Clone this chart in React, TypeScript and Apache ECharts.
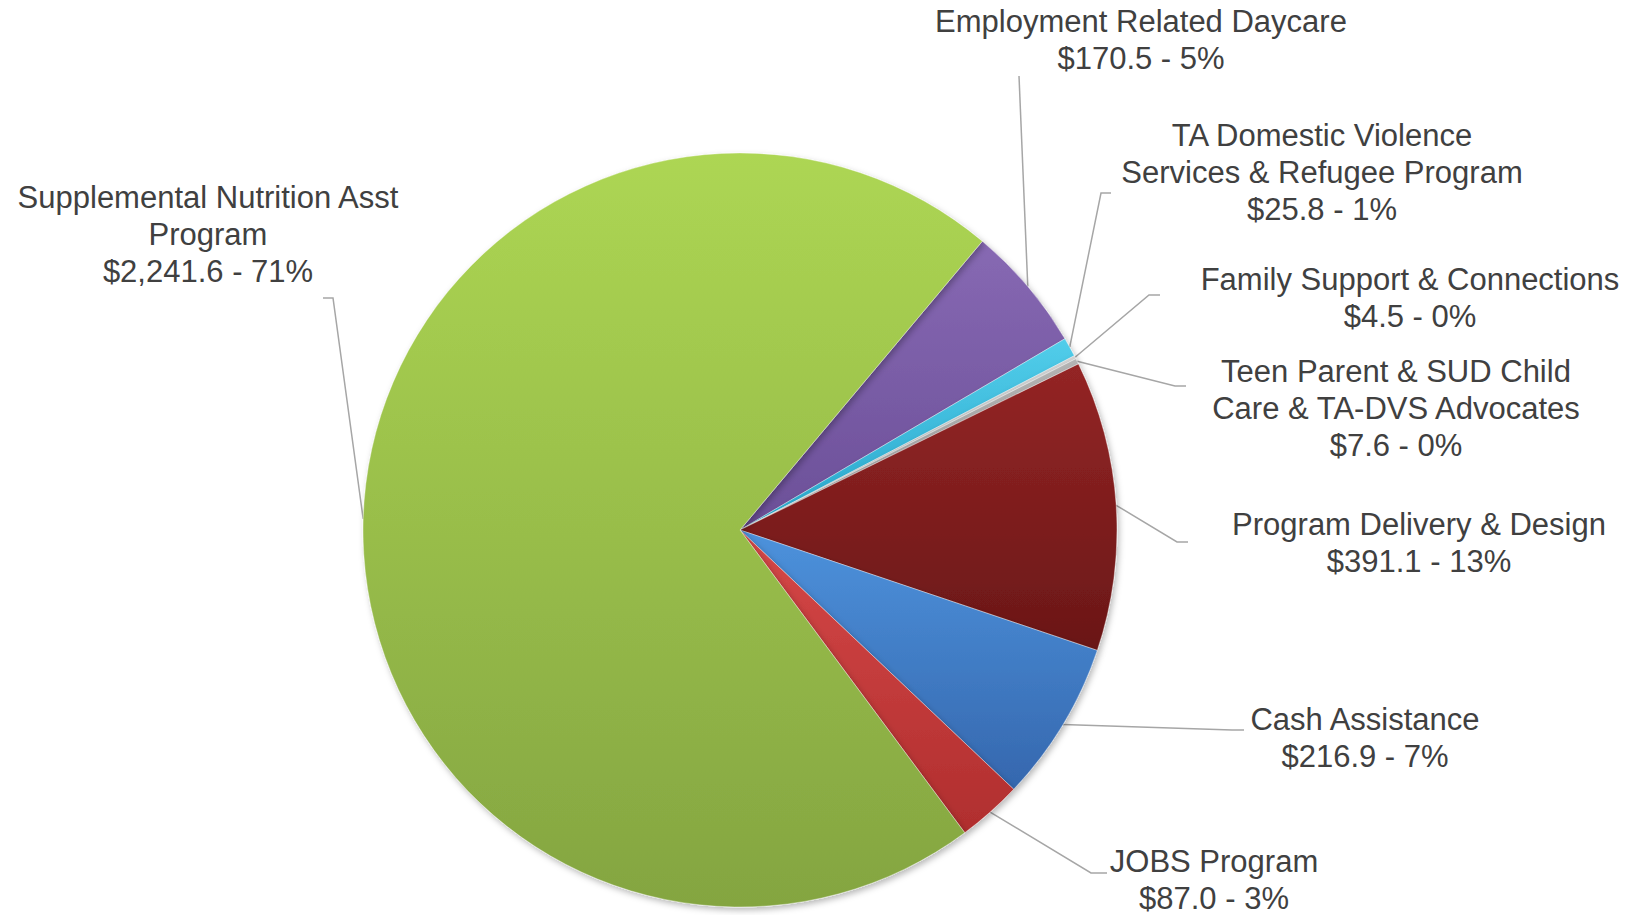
import React, { useEffect, useRef } from "react";
import * as echarts from "echarts";

// ---- data ----
const categories: string[] = [
  "Employment Related Daycare",
  "TA Domestic Violence\nServices & Refugee Program",
  "Family Support & Connections",
  "Teen Parent & SUD Child\nCare & TA-DVS Advocates",
  "Program Delivery & Design",
  "Cash Assistance",
  "JOBS Program",
  "Supplemental Nutrition Asst\nProgram",
];
const values: number[] = [170.5, 25.8, 4.5, 7.6, 391.1, 216.9, 87.0, 2241.6];

// ---- styling (not data) ----
const colorsTop: string[] = ["#8769b3", "#52cdea", "#d2d2d2", "#b4b4b4", "#942525", "#4d92dc", "#d64848", "#add653"];
const colorsBottom: string[] = ["#6b4f98", "#27a6cb", "#b8b8b8", "#9a9a9a", "#6a1717", "#3567ae", "#b02e2e", "#84a541"];

// label anchor (center x, top y) and leader-line elbows
const labelAnchors: [number, number][] = [
  [1141, 3],
  [1322, 117],
  [1410, 261],
  [1396, 353],
  [1419, 506],
  [1365, 701],
  [1214, 843],
  [208, 179],
];
const leaderElbows: [number, number][][] = [
  [[1019, 76], [1019, 76]],
  [[1101, 193], [1111, 193]],
  [[1149, 295], [1160, 295]],
  [[1175, 386], [1186, 386]],
  [[1177, 542], [1188, 542]],
  [[1232, 730], [1244, 730]],
  [[1091, 873], [1107, 873]],
  [[333, 298], [323, 298]],
];

const fmtMoney = (v: number) =>
  "$" + v.toLocaleString("en-US", { minimumFractionDigits: 1, maximumFractionDigits: 1 });

export default function App() {
  const ref = useRef<HTMLDivElement>(null);

  useEffect(() => {
    if (!ref.current) return;
    const chart = echarts.init(ref.current, undefined, { renderer: "svg" });
    const data = categories.map((name, i) => ({
      name,
      value: values[i],
      itemStyle: {
        color: new echarts.graphic.LinearGradient(0, 0, 0, 1, [
          { offset: 0, color: colorsTop[i] },
          { offset: 1, color: colorsBottom[i] },
        ]),
      },
    }));

    chart.setOption({
      animation: false,
      backgroundColor: "#ffffff",
      series: [
        {
          type: "pie",
          center: [740, 530],
          radius: [0, 377],
          startAngle: 50,
          clockwise: true,
          percentPrecision: 0,
          avoidLabelOverlap: false,
          data,
          itemStyle: {
            borderColor: "rgba(255,255,255,0.35)",
            borderWidth: 1,
            shadowBlur: 6,
            shadowColor: "rgba(0,0,0,0.28)",
            shadowOffsetX: 2,
            shadowOffsetY: 3,
          },
          label: {
            show: true,
            position: "outside",
            formatter: (p: any) => `${p.name}\n${fmtMoney(p.value)} - ${p.percent}%`,
            fontFamily: "'Liberation Sans', Arial, sans-serif",
            fontSize: 31,
            lineHeight: 37,
            color: "#404040",
            align: "center",
          },
          labelLine: {
            show: true,
            length: 20,
            length2: 10,
            smooth: false,
            lineStyle: { color: "#a6a6a6", width: 1.5 },
          },
          labelLayout: (params: any) => {
            const i = params.dataIndex;
            const a = labelAnchors[i];
            const pts = params.labelLinePoints;
            const start = pts && pts[0] ? pts[0] : null;
            const out: any = {
              x: a[0],
              y: a[1],
              align: "center",
              verticalAlign: "top",
            };
            if (start) {
              out.labelLinePoints = [start, leaderElbows[i][0], leaderElbows[i][1]];
            }
            return out;
          },
          emphasis: { disabled: true },
        },
      ],
    });

    return () => chart.dispose();
  }, []);

  return (
    <div
      ref={ref}
      style={{ position: "fixed", left: 0, top: 0, width: 1644, height: 915, background: "#fff" }}
    />
  );
}
